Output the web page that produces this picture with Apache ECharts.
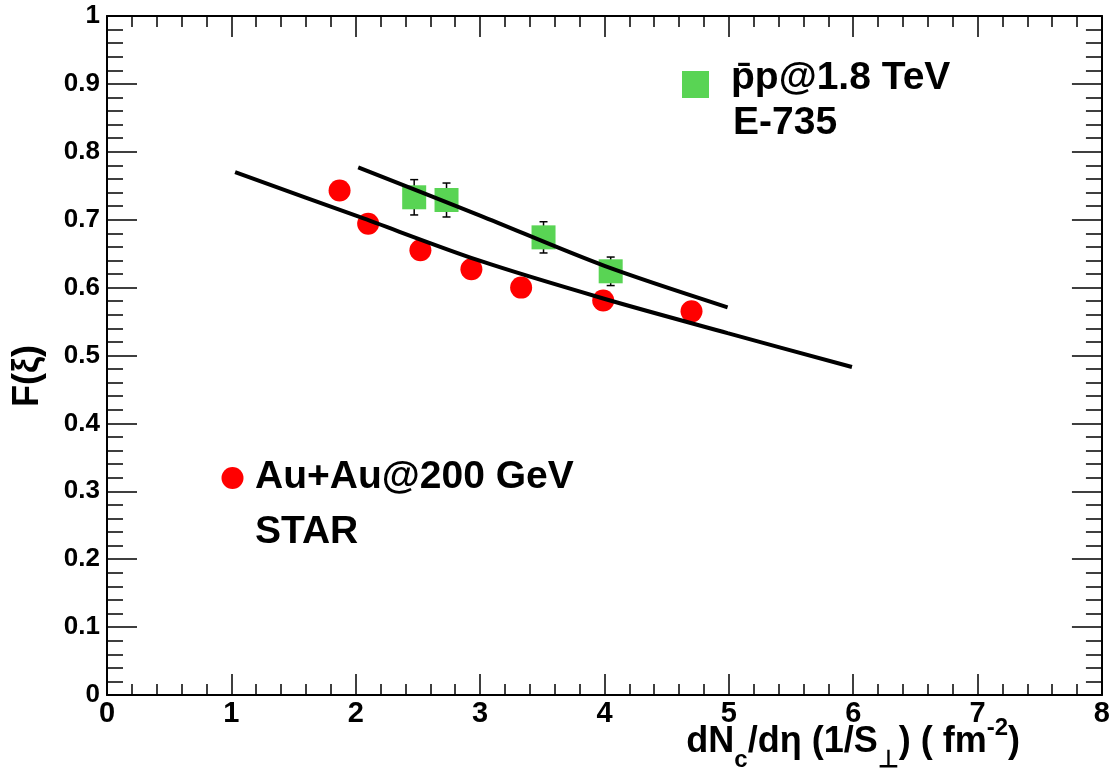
<!DOCTYPE html>
<html>
<head>
<meta charset="utf-8">
<title>F(xi) vs dNc/deta</title>
<script src="https://cdn.jsdelivr.net/npm/echarts@6/dist/echarts.min.js"></script>
<style>
  html, body { margin: 0; padding: 0; background: #fff; }
  #chart { width: 1113px; height: 777px; }
</style>
</head>
<body>
<div id="chart"></div>
<script>
// STAR Au+Au@200 GeV (red circles)
const starX = [1.87, 2.10, 2.52, 2.93, 3.33, 3.99, 4.70];
const starY = [0.743, 0.694, 0.655, 0.627, 0.600, 0.581, 0.565];

// E-735 pbar-p@1.8 TeV (green squares) with errors
const e735X = [2.47, 2.73, 3.51, 4.05];
const e735Y = [0.733, 0.729, 0.674, 0.624];
const e735Err = [0.026, 0.025, 0.023, 0.021];

// fit curves
const starFitX = [1.03, 2.03, 2.99, 3.99, 4.99, 5.99];
const starFitY = [0.770, 0.704, 0.640, 0.584, 0.533, 0.483];
const e735FitX = [2.02, 3.0, 4.0, 4.99];
const e735FitY = [0.777, 0.706, 0.632, 0.571];

const FONT = 'Liberation Sans';

const pairs = (xs, ys) => xs.map((x, i) => [x, ys[i]]);

const myChart = echarts.init(document.getElementById('chart'));

const xAxisBase = {
  type: 'value',
  min: 0,
  max: 8,
  interval: 1,
  splitLine: { show: false },
  axisLine: { onZero: false, lineStyle: { color: '#000', width: 2 } },
  axisTick: { inside: true, length: 21, lineStyle: { color: '#000', width: 1.5 } },
  minorTick: { show: true, splitNumber: 5, length: 11, lineStyle: { color: '#000', width: 1.5 } },
};
const yAxisBase = {
  type: 'value',
  min: 0,
  max: 1,
  interval: 0.1,
  splitLine: { show: false },
  axisLine: { onZero: false, lineStyle: { color: '#000', width: 2 } },
  axisTick: { inside: true, length: 30, lineStyle: { color: '#000', width: 1.5 } },
  minorTick: { show: true, splitNumber: 5, length: 16, lineStyle: { color: '#000', width: 1.5 } },
};

myChart.setOption({
  animation: false,
  backgroundColor: '#fff',
  grid: { left: 107, top: 16, width: 1000, height: 679 },
  xAxis: [
    Object.assign({}, xAxisBase, {
      position: 'bottom',
      axisLabel: { color: '#000', fontFamily: FONT, fontWeight: 'bold', fontSize: 29, margin: 4 },
    }),
    Object.assign({}, xAxisBase, {
      position: 'top',
      axisLabel: { show: false },
    }),
  ],
  yAxis: [
    Object.assign({}, yAxisBase, {
      position: 'left',
      axisLabel: { color: '#000', fontFamily: FONT, fontWeight: 'bold', fontSize: 26, margin: 7 },
    }),
    Object.assign({}, yAxisBase, {
      position: 'right',
      axisLabel: { show: false },
    }),
  ],
  series: [
    {
      name: 'Au+Au@200 GeV STAR',
      type: 'scatter',
      symbol: 'circle',
      symbolSize: 22,
      itemStyle: { color: '#ff0000', opacity: 1 },
      data: pairs(starX, starY),
      z: 2,
    },
    {
      name: 'E-735 errors',
      type: 'custom',
      data: e735X.map((x, i) => [x, e735Y[i], e735Err[i]]),
      renderItem: (params, api) => {
        const x = api.value(0);
        const y = api.value(1);
        const e = api.value(2);
        const top = api.coord([x, y + e]);
        const bot = api.coord([x, y - e]);
        const cap = 4;
        const st = { stroke: '#000', lineWidth: 1.5 };
        return {
          type: 'group',
          children: [
            { type: 'line', shape: { x1: top[0], y1: top[1], x2: bot[0], y2: bot[1] }, style: st },
            { type: 'line', shape: { x1: top[0] - cap, y1: top[1], x2: top[0] + cap, y2: top[1] }, style: st },
            { type: 'line', shape: { x1: bot[0] - cap, y1: bot[1], x2: bot[0] + cap, y2: bot[1] }, style: st },
          ],
        };
      },
      z: 2,
    },
    {
      name: 'p\u0304p@1.8 TeV E-735',
      type: 'scatter',
      symbol: 'rect',
      symbolSize: 24,
      itemStyle: { color: '#59d454', opacity: 1 },
      data: pairs(e735X, e735Y),
      z: 3,
    },
    {
      name: 'STAR fit',
      type: 'line',
      showSymbol: false,
      smooth: 0.3,
      lineStyle: { color: '#000', width: 4 },
      data: pairs(starFitX, starFitY),
      z: 4,
    },
    {
      name: 'E-735 fit',
      type: 'line',
      showSymbol: false,
      smooth: 0.3,
      lineStyle: { color: '#000', width: 4 },
      data: pairs(e735FitX, e735FitY),
      z: 4,
    },
  ],
  graphic: [
    // legend: E-735
    { type: 'rect', shape: { x: 682, y: 71, width: 27, height: 27 }, style: { fill: '#59d454' } },
    {
      type: 'text', x: 731, y: 78,
      style: { text: 'p\u0304p@1.8 TeV', fill: '#000', font: 'bold 39px "Liberation Sans"', verticalAlign: 'middle' },
    },
    {
      type: 'text', x: 733, y: 123,
      style: { text: 'E-735', fill: '#000', font: 'bold 39px "Liberation Sans"', verticalAlign: 'middle' },
    },
    // legend: STAR
    { type: 'circle', shape: { cx: 232.5, cy: 478, r: 11 }, style: { fill: '#ff0000' } },
    {
      type: 'text', x: 255, y: 477,
      style: { text: 'Au+Au@200 GeV', fill: '#000', font: 'bold 39px "Liberation Sans"', verticalAlign: 'middle' },
    },
    {
      type: 'text', x: 255, y: 532,
      style: { text: 'STAR', fill: '#000', font: 'bold 39px "Liberation Sans"', verticalAlign: 'middle' },
    },
    // y axis title
    {
      type: 'text', x: 28, y: 376, rotation: Math.PI / 2,
      style: { text: 'F(\u03be)', fill: '#000', font: 'bold 36px "Liberation Sans"', align: 'center', verticalAlign: 'middle' },
    },
    // x axis title
    {
      type: 'text', x: 1020, y: 712,
      style: {
        text: '{b|dN}{s|c}{b|/d\u03b7 (1/S}{s|\u22a5}{b|) ( fm}{p|-2}{b|)}',
        align: 'right',
        verticalAlign: 'top',
        fill: '#000',
        rich: {
          b: { fontFamily: FONT, fontWeight: 'bold', fontSize: 36, lineHeight: 60, verticalAlign: 'middle', fill: '#000' },
          s: { fontFamily: FONT, fontWeight: 'bold', fontSize: 24, lineHeight: 24, verticalAlign: 'bottom', fill: '#000' },
          p: { fontFamily: FONT, fontWeight: 'bold', fontSize: 24, lineHeight: 24, verticalAlign: 'top', padding: [4, 0, 0, 0], fill: '#000' },
        },
      },
    },
  ],
});
</script>
</body>
</html>
